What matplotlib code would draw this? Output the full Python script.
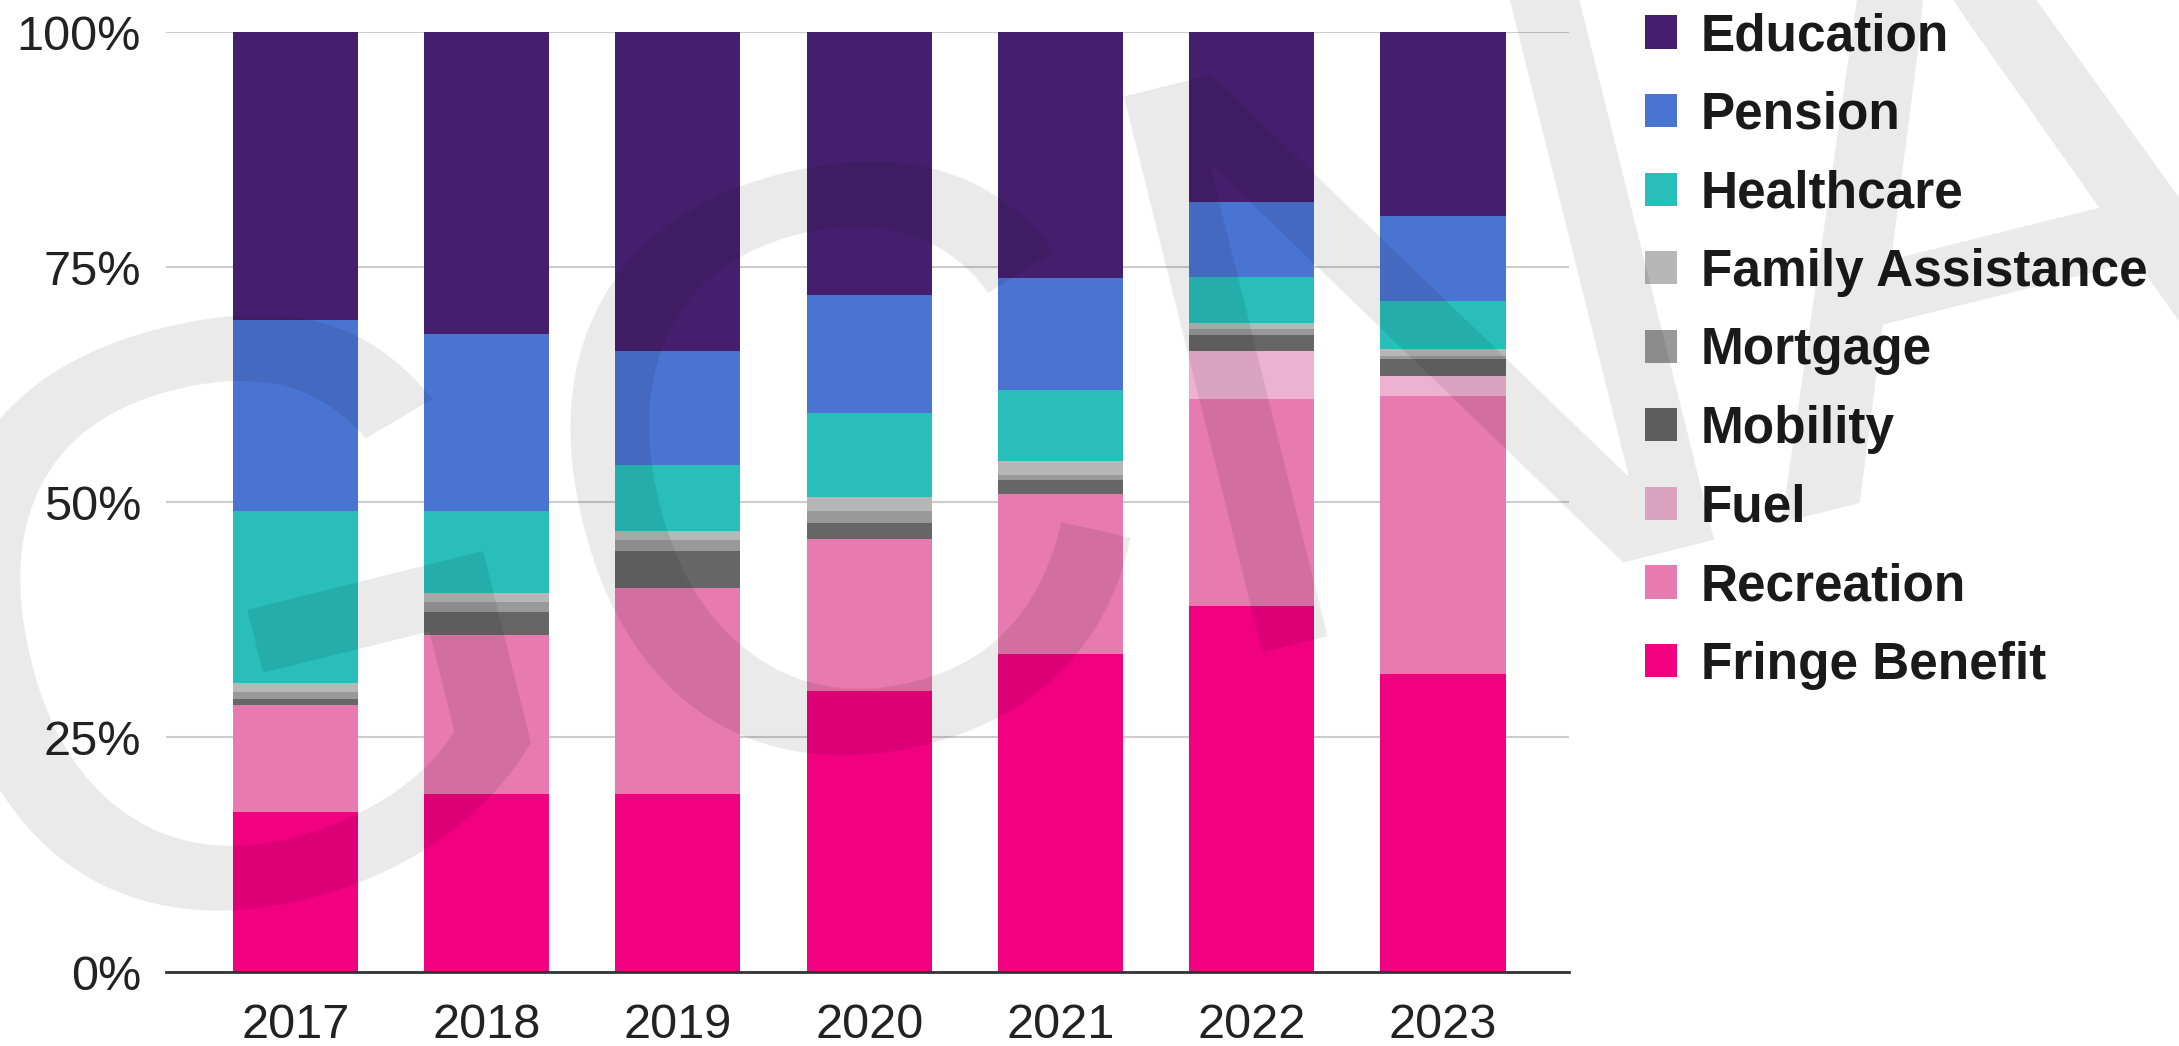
import matplotlib
matplotlib.use("Agg")
import matplotlib.pyplot as plt
import numpy as np

plt.rcParams['font.family'] = ['Liberation Sans', 'DejaVu Sans']

# data (percent of total per year)
years = ["2017", "2018", "2019", "2020", "2021", "2022", "2023"]
categories = ["Fringe Benefit", "Recreation", "Fuel", "Mobility", "Mortgage",
              "Family Assistance", "Healthcare", "Pension", "Education"]
fringe_benefit = [17.0, 18.9, 18.9, 29.9, 33.8, 38.9, 31.7]
recreation = [11.4, 17.0, 22.0, 16.2, 17.05, 22.1, 29.6]
fuel = [0.0, 0.0, 0.0, 0.0, 0.0, 5.1, 2.1]
mobility = [0.6, 2.4, 3.9, 1.7, 1.45, 1.7, 1.8]
mortgage = [0.8, 1.1, 1.2, 1.2, 0.6, 0.6, 0.3]
family_assistance = [1.0, 0.95, 0.95, 1.5, 1.5, 0.6, 0.8]
healthcare = [18.2, 8.65, 6.95, 9.0, 7.5, 4.9, 5.1]
pension = [20.4, 18.9, 12.2, 12.5, 11.9, 8.0, 9.0]
education = [30.6, 32.1, 33.9, 28.0, 26.2, 18.1, 19.6]

colors = ["#f10080", "#e77aae", "#eeb2d1", "#666666", "#999999",
          "#b7b7b7", "#29beb9", "#4a74d2", "#451f6e"]

series = [fringe_benefit, recreation, fuel, mobility, mortgage,
          family_assistance, healthcare, pension, education]

fig = plt.figure(figsize=(21.79, 10.46), dpi=100)
ax = fig.add_axes([0.0762, 0.0707, 0.6438, 0.8987])

x = np.arange(len(years))
bottom = np.zeros(len(years))
handles = []
for name, vals, col in zip(categories, series, colors):
    vals = np.array(vals)
    b = ax.bar(x, vals, 0.654, bottom=bottom, color=col, label=name,
               zorder=3, linewidth=0)
    handles.append(b)
    bottom += vals

ax.set_xlim(-0.676, 6.658)
ax.set_ylim(0, 100)
ax.set_yticks([0, 25, 50, 75, 100])
ax.set_yticklabels(["0%", "25%", "50%", "75%", "100%"])
ax.set_xticks(x)
ax.set_xticklabels(years)
ax.tick_params(axis='y', length=0, pad=18, labelsize=35, labelcolor="#222222")
ax.tick_params(axis='x', length=0, pad=22, labelsize=35, labelcolor="#222222")
ax.yaxis.grid(True, color="#cccccc", linewidth=1.5, zorder=0)
ax.set_axisbelow(True)
for s in ["top", "right", "left"]:
    ax.spines[s].set_visible(False)
ax.spines["bottom"].set_color("#333333")
ax.spines["bottom"].set_linewidth(2)
ax.spines["bottom"].set_zorder(4)

leg = fig.legend(handles[::-1], categories[::-1], loc="upper left",
                 bbox_to_anchor=(0.7455, 1.008), frameon=False,
                 prop={'weight': 'bold', 'size': 37},
                 handlelength=0.62, handleheight=0.62, handletextpad=0.47,
                 labelspacing=0.575, borderaxespad=0)
for t in leg.get_texts():
    t.set_color("#1a1a1a")

# faint watermark over the whole picture
fig.text(0.504, 0.559, "GCNA", fontsize=600, rotation=14, color="black",
         alpha=0.085, ha="center", va="center", zorder=10)

fig.savefig("out.png", dpi=100)
